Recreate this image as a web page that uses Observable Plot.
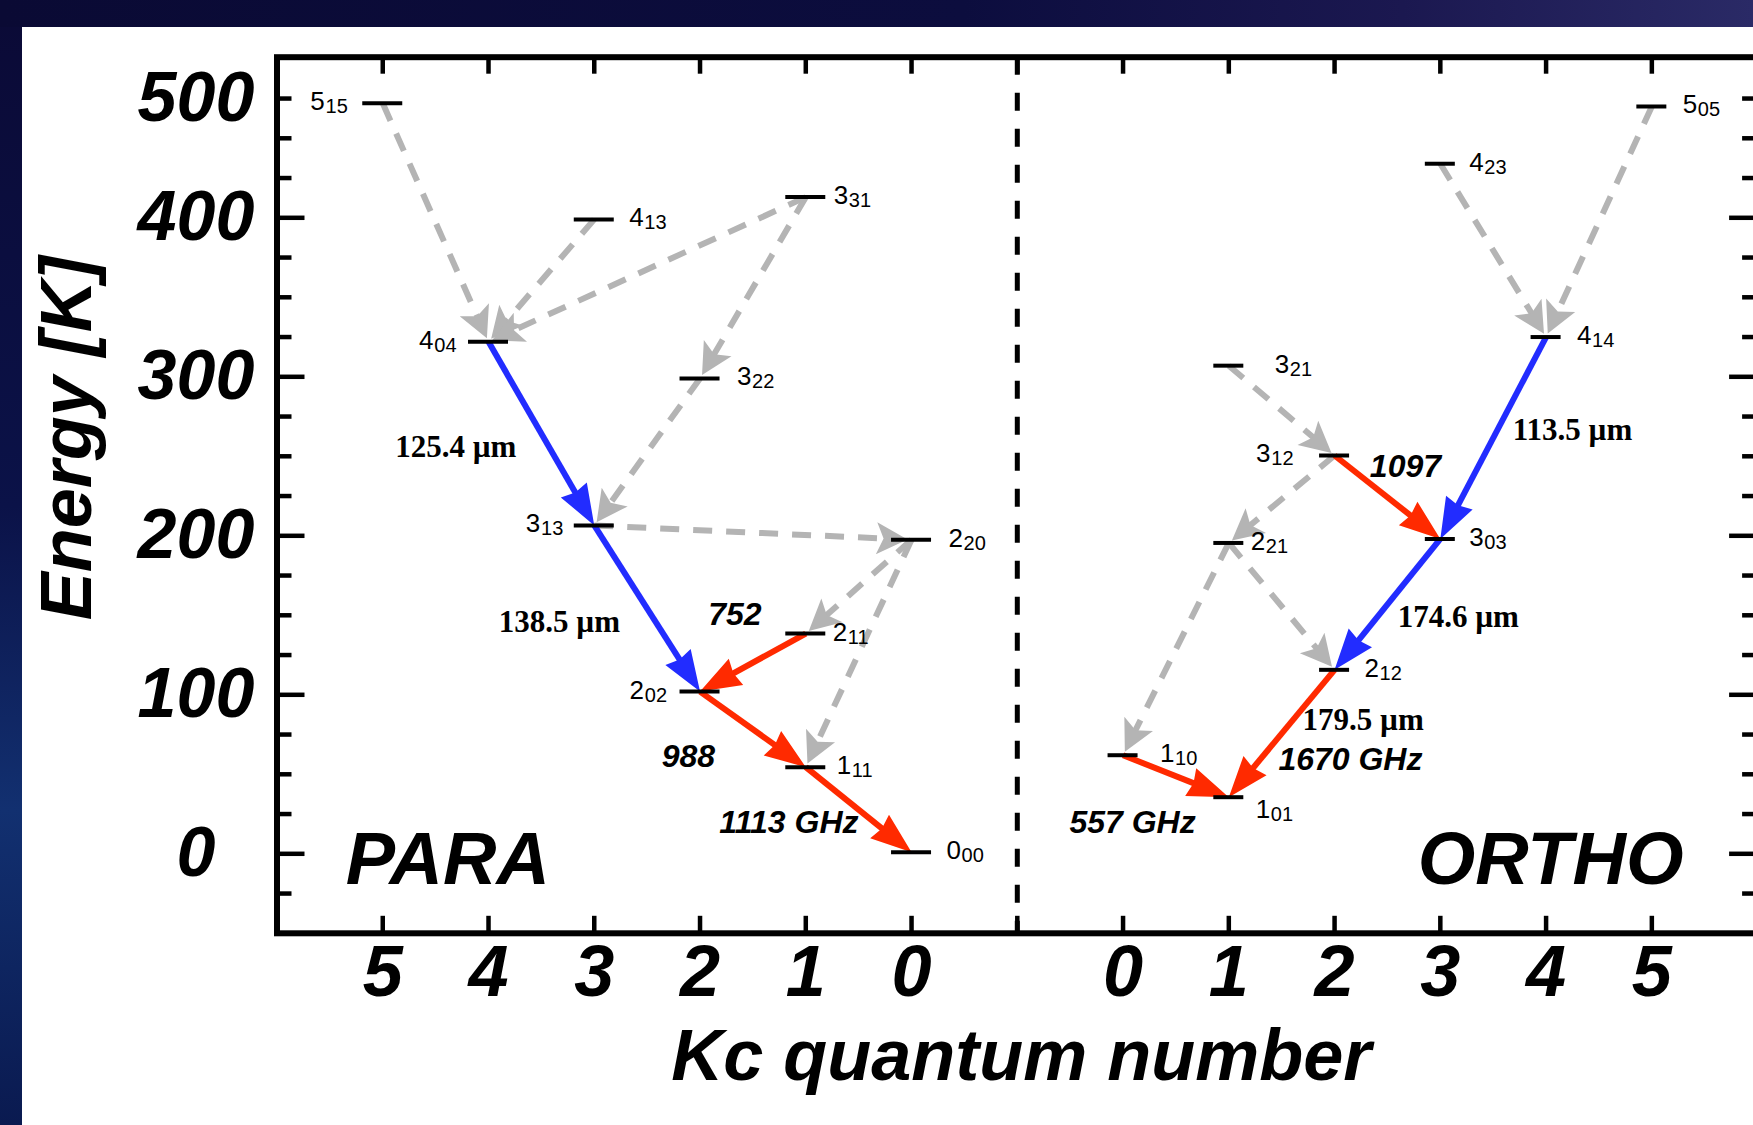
<!DOCTYPE html>
<html>
<head>
<meta charset="utf-8">
<script src="https://cdn.jsdelivr.net/npm/d3@7"></script>
<script src="https://cdn.jsdelivr.net/npm/@observablehq/plot@0.6"></script>
<style>
html, body { margin: 0; padding: 0; }
body {
  width: 1753px; height: 1125px; overflow: hidden; position: relative;
  background: linear-gradient(180deg, #0b0a36 0%, #0b1248 45%, #123070 72%, #0a1a50 100%);
}
#topband { position: absolute; left: 0; top: 0; width: 1753px; height: 27px;
  background: linear-gradient(90deg, #0a0a34 0%, #0c0d3e 55%, #1b1850 80%, #2a2a66 100%); }
#panel { position: absolute; left: 22px; top: 27px; width: 1731px; height: 1098px; background: #fff; overflow: hidden; }
</style>
</head>
<body>
<div id="topband"></div>
<div id="panel"></div>
<script>
// ---------------- DATA ----------------
// Para-water rotational levels: name J_KaKc, Kc quantum number, energy [K]
const paraNames  = ["5_15", "4_13", "3_31", "4_04", "3_22", "3_13", "2_20", "2_11", "2_02", "1_11", "0_00"];
const paraKc     = [5, 3, 1, 4, 2, 3, 0, 1, 2, 1, 0];
const paraEnergy = [472, 399, 413, 322, 299, 206.5, 197.5, 138.5, 102, 54.5, 1];

// Ortho-water rotational levels
const orthoNames  = ["5_05", "4_23", "4_14", "3_21", "3_12", "3_03", "2_21", "2_12", "1_10", "1_01"];
const orthoKc     = [5, 3, 4, 1, 2, 3, 1, 2, 0, 1];
const orthoEnergy = [470, 434, 325, 307, 250.5, 198, 195.5, 115.7, 62, 35.6];

// Cascade (grey dashed) transitions
const cascadeFrom = ["5_15", "4_13", "3_31", "3_31", "3_22", "3_13", "2_20", "2_20", "5_05", "4_23", "3_21", "3_12", "2_21", "2_21"];
const cascadeTo   = ["4_04", "4_04", "4_04", "3_22", "3_13", "2_20", "2_11", "1_11", "4_14", "4_14", "3_12", "2_21", "2_12", "1_10"];

// Observed lines (coloured arrows)
const lineFrom = ["4_04", "3_13", "2_11", "2_02", "1_11", "4_14", "3_03", "3_12", "2_12", "1_10"];
const lineTo   = ["3_13", "2_02", "2_02", "1_11", "0_00", "3_03", "2_12", "3_03", "1_01", "1_01"];
const lineBand = ["blue", "blue", "red", "red", "red", "blue", "blue", "red", "red", "red"];

// Line annotations
const lineLabelText = ["125.4 µm", "138.5 µm", "752", "988", "1113 GHz", "113.5 µm", "174.6 µm", "1097", "179.5 µm", "1670 GHz", "557 GHz"];

// Axis ticks / labels
const xTickPos    = [0, 1, 2, 3, 4, 5, 7, 8, 9, 10, 11, 12];
const xTickLabels = ["5", "4", "3", "2", "1", "0", "0", "1", "2", "3", "4", "5"];
const yLabelPos   = [0, 100, 200, 300, 400, 475];
const yLabelText  = ["0", "100", "200", "300", "400", "500"];
const yMinorTicks = d3.range(-25, 476, 25);
const ladderNames = ["PARA", "ORTHO"];
const xTitle = "Kc quantum number";
const yTitle = "Energy [K]";

// ---------------- LAYOUT / STYLE ----------------
const W = 1745, H = 1098;
const mL = 254.5, mR = 9.9, mT = 29.7, mB = 192.2;
const xDomain = [-1, 13], yDomain = [-50, 501];
const kx = (W - mL - mR) / (xDomain[1] - xDomain[0]);
const ky = (H - mT - mB) / (yDomain[1] - yDomain[0]);
const SANS = "'Liberation Sans', Arial, Helvetica, sans-serif";
const SERIF = "'Liberation Serif', 'Times New Roman', serif";
const BLUE = "#222cff", RED = "#ff2a00", GREY = "#b4b4b4";

// label placement (px from level centre, negative = left side)
const labelOffset = {
  "5_15": -35, "4_13": 35, "3_31": 28, "4_04": -32, "3_22": 37, "3_13": -31, "2_20": 37,
  "2_11": 27, "2_02": -33, "1_11": 31, "0_00": 35,
  "5_05": 31, "4_23": 29, "4_14": 31, "3_21": 46, "3_12": -41, "3_03": 29, "2_21": 22,
  "2_12": 30, "1_10": 37, "1_01": 27
};
const labelDrop = {"1_01": 14};
const lineLabelAt = [[0.69, 255.5], [1.67, 145.5], [3.33, 150.5], [2.89, 61], [3.84, 19.4],
                     [11.25, 266.5], [10.17, 149], [9.67, 243.6], [9.27, 84], [9.15, 59], [7.09, 19.4]];
const ladderAt = [[-0.35, -4, "start"], [12.3, -4, "end"]];

// ---------------- BUILD ----------------
const levels = [
  ...paraNames.map((n, i) => ({name: n, ladder: "para", Kc: paraKc[i], E: paraEnergy[i]})),
  ...orthoNames.map((n, i) => ({name: n, ladder: "ortho", Kc: orthoKc[i], E: orthoEnergy[i]}))
];
levels.forEach(d => { d.p = d.ladder === "para" ? 5 - d.Kc : 7 + d.Kc; d.half = d.ladder === "para" ? 20 : 15; });
const byName = new Map(levels.map(d => [d.name, d]));

function arrowSeg(a, b, s) {
  const dxp = (b.p - a.p) * kx, dyp = (b.E - a.E) * ky;
  const f = 1 - s / Math.hypot(dxp, dyp);
  return {x1: a.p, y1: a.E, x2: a.p + (b.p - a.p) * f, y2: a.E + (b.E - a.E) * f};
}
const cascades = cascadeFrom.map((f, i) => arrowSeg(byName.get(f), byName.get(cascadeTo[i]), 13));
const lines = lineFrom.map((f, i) => ({...arrowSeg(byName.get(f), byName.get(lineTo[i]), 11), band: lineBand[i]}));
const lineLabels = lineLabelText.map((t, i) => ({text: t, x: lineLabelAt[i][0], y: lineLabelAt[i][1], serif: t.includes("µm")}));

function head(len, hw, notch, back) {
  return (color) => {
    const ns = "http://www.w3.org/2000/svg";
    const m = document.createElementNS(ns, "marker");
    m.setAttribute("viewBox", `${-len} ${-hw} ${len} ${2 * hw}`);
    m.setAttribute("markerUnits", "userSpaceOnUse");
    m.setAttribute("markerWidth", len);
    m.setAttribute("markerHeight", 2 * hw);
    m.setAttribute("refX", -back);
    m.setAttribute("refY", 0);
    m.setAttribute("orient", "auto");
    m.setAttribute("overflow", "visible");
    const p = document.createElementNS(ns, "path");
    p.setAttribute("d", `M0,0L${-len},${-hw}L${-len + notch},0L${-len},${hw}Z`);
    p.setAttribute("fill", color);
    p.setAttribute("stroke", "none");
    p.setAttribute("stroke-dasharray", "none");
    m.appendChild(p);
    return m;
  };
}

const lx = d => d.p + labelOffset[d.name] / kx;
const ly = d => d.E - (labelDrop[d.name] || 0) / ky;
const rightLv = levels.filter(d => labelOffset[d.name] > 0);
const leftLv = levels.filter(d => labelOffset[d.name] < 0);
const mainTxt = d => d.name.split("_")[0];
const subTxt = d => d.name.split("_")[1];
const isMajor = v => v % 100 === 0;
const xLabelMap = new Map(xTickPos.map((p, i) => [p, xTickLabels[i]]));
const yLabelMap = new Map(yLabelPos.map((v, i) => [v, yLabelText[i]]));
const tickPosAll = d3.range(0, 13);
const ladders = ladderNames.map((t, i) => ({t, x: ladderAt[i][0], y: ladderAt[i][1], a: ladderAt[i][2]}));
const bigFont = {fontFamily: SANS, fontWeight: "bold", fontStyle: "italic"};

const chart = Plot.plot({
  width: W, height: H,
  marginLeft: mL, marginRight: mR, marginTop: mT, marginBottom: mB,
  style: {maxWidth: "none", background: "white", overflow: "visible"},
  x: {domain: xDomain},
  y: {domain: yDomain},
  marks: [
    // grey cascade arrows
    Plot.link(cascades, {x1: "x1", y1: "y1", x2: "x2", y2: "y2", stroke: GREY, strokeWidth: 6,
      strokeDasharray: "19,14", strokeLinecap: "butt", markerEnd: head(31, 16, 7, 9)}),
    // observed lines
    Plot.link(lines.filter(d => d.band === "blue"), {x1: "x1", y1: "y1", x2: "x2", y2: "y2", stroke: BLUE,
      strokeWidth: 6, strokeLinecap: "butt", markerEnd: head(41, 15, 3, 11)}),
    Plot.link(lines.filter(d => d.band === "red"), {x1: "x1", y1: "y1", x2: "x2", y2: "y2", stroke: RED,
      strokeWidth: 6, strokeLinecap: "butt", markerEnd: head(41, 15, 3, 11)}),
    // energy levels
    Plot.ruleY(levels, {y: "E", x1: d => d.p - d.half / kx, x2: d => d.p + d.half / kx, stroke: "black", strokeWidth: 4}),
    // level labels
    Plot.text(rightLv, {x: lx, y: ly, text: mainTxt, textAnchor: "start", lineAnchor: "bottom", dy: 7, fontSize: 26, fontFamily: SANS}),
    Plot.text(rightLv, {x: lx, y: ly, text: subTxt, textAnchor: "start", lineAnchor: "bottom", dx: 15, dy: 10, fontSize: 20, fontFamily: SANS}),
    Plot.text(leftLv, {x: lx, y: ly, text: subTxt, textAnchor: "end", lineAnchor: "bottom", dy: 10, fontSize: 20, fontFamily: SANS}),
    Plot.text(leftLv, {x: lx, y: ly, text: mainTxt, textAnchor: "end", lineAnchor: "bottom", dx: -23, dy: 7, fontSize: 26, fontFamily: SANS}),
    // line labels
    Plot.text(lineLabels.filter(d => d.serif), {x: "x", y: "y", text: "text", lineAnchor: "middle", fontFamily: SERIF, fontWeight: "bold", fontSize: 31}),
    Plot.text(lineLabels.filter(d => !d.serif), {x: "x", y: "y", text: "text", lineAnchor: "middle", ...bigFont, fontSize: 32}),
    // ladder names
    Plot.text(ladders.filter(d => d.a === "start"), {x: "x", y: "y", text: "t", textAnchor: "start", lineAnchor: "middle", ...bigFont, fontSize: 74}),
    Plot.text(ladders.filter(d => d.a === "end"), {x: "x", y: "y", text: "t", textAnchor: "end", lineAnchor: "middle", ...bigFont, fontSize: 74}),
    // PARA | ORTHO divider
    Plot.ruleX([6], {stroke: "black", strokeWidth: 5, strokeDasharray: "18,18"}),
    // inward ticks: left, right, top, bottom
    Plot.ruleY(yMinorTicks, {y: d => d, x1: xDomain[0], x2: d => xDomain[0] + (isMajor(d) ? 28 : 15) / kx, stroke: "black", strokeWidth: 4.5}),
    Plot.ruleY(yMinorTicks, {y: d => d, x1: d => xDomain[1] - (isMajor(d) ? 28 : 15) / kx, x2: xDomain[1], stroke: "black", strokeWidth: 4.5}),
    Plot.ruleX(tickPosAll, {x: d => d, y1: yDomain[1], y2: yDomain[1] - 17 / ky, stroke: "black", strokeWidth: 4.5}),
    Plot.ruleX(tickPosAll, {x: d => d, y1: yDomain[0], y2: yDomain[0] + 17 / ky, stroke: "black", strokeWidth: 4.5}),
    Plot.frame({stroke: "black", strokeWidth: 6}),
    // axes (labels only)
    Plot.axisY(yLabelPos, {anchor: "left", tickSize: 0, tickPadding: 81, textAnchor: "middle",
      tickFormat: v => yLabelMap.get(v), fontSize: 70, ...bigFont, label: null}),
    Plot.axisX(xTickPos, {anchor: "bottom", tickSize: 0, tickPadding: 12,
      tickFormat: v => xLabelMap.get(v), fontSize: 72, ...bigFont, label: null}),
    // axis titles
    Plot.text([xTitle], {frameAnchor: "bottom", dx: 4, dy: 124, textAnchor: "middle", lineAnchor: "middle", fontSize: 72, ...bigFont}),
    Plot.text([yTitle], {frameAnchor: "left", dx: -209.5, dy: -57, rotate: -90, textAnchor: "middle", lineAnchor: "middle", fontSize: 72, ...bigFont})
  ]
});
document.getElementById("panel").appendChild(chart);
</script>
</body>
</html>
